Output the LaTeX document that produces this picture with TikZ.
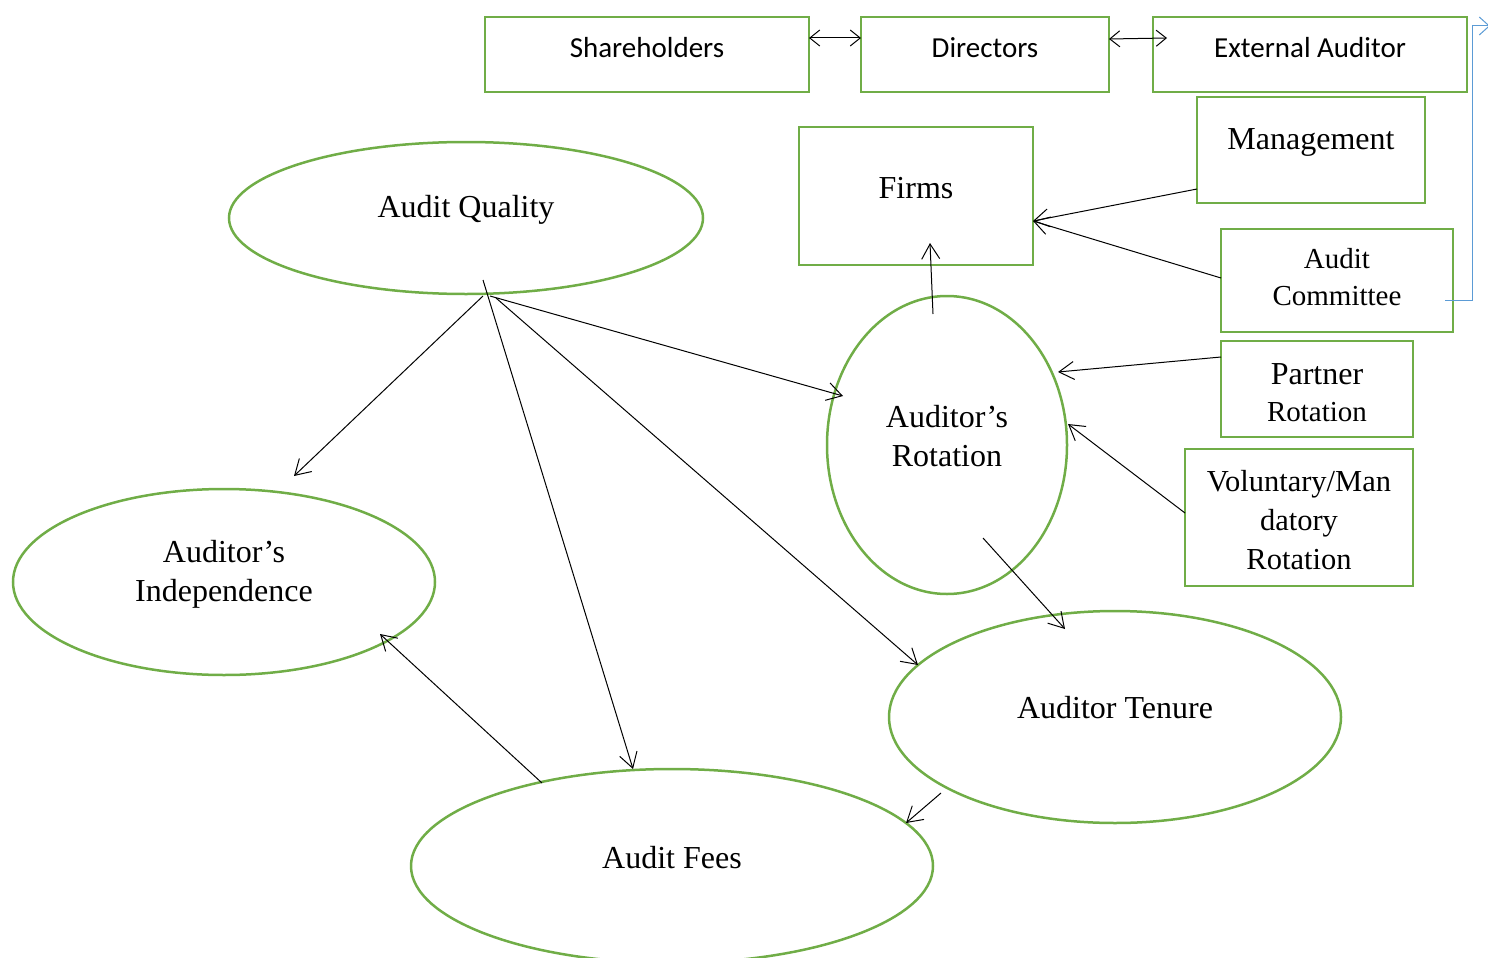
\documentclass[tikz,border=0pt]{standalone}
\usepackage{fontspec}
\setmainfont{Liberation Serif}
\newfontfamily\calib{Carlito}
\usetikzlibrary{arrows.meta,shapes.geometric}
\definecolor{grn}{HTML}{70AD47}
\definecolor{blu}{HTML}{5B9BD5}
\tikzset{
  box/.style={draw=grn,line width=2.5pt,rectangle,inner sep=0pt},
  ell/.style={draw=grn,line width=2.5pt,ellipse,inner sep=0pt},
  stxt/.style={font=\calib\fontsize{29}{34}\selectfont,inner sep=0pt},
  txt/.style={font=\fontsize{32}{39}\selectfont,inner sep=0pt,align=center},
  conn/.style={line width=1pt,-{Straight Barb[length=15pt,width=18pt,line width=1pt]}},
  bconn/.style={line width=1pt,{Straight Barb[length=10pt,width=16pt,line width=1pt]}-{Straight Barb[length=10pt,width=16pt,line width=1pt]}},
}
\begin{document}
\begin{tikzpicture}[x=1pt,y=-1pt]
\useasboundingbox (0,0) rectangle (1488,958);
% top boxes
\node[box,minimum width=324pt,minimum height=75pt] (sh) at (647,54.5) {};
\node[stxt] at (647,48) {Shareholders};
\node[box,minimum width=248pt,minimum height=75pt] (di) at (985,54.5) {};
\node[stxt] at (985,48) {Directors};
\node[box,minimum width=314pt,minimum height=75pt] (ea) at (1310,54.5) {};
\node[stxt] at (1310,48) {External Auditor};
% right boxes
\node[box,minimum width=228pt,minimum height=106pt] (mg) at (1311,150) {};
\node[txt] at (1311,142) {Management};
\node[box,minimum width=234pt,minimum height=138pt] (fi) at (916,196) {};
\node[txt] at (916,188) {Firms};
\node[box,minimum width=232pt,minimum height=103pt] (ac) at (1337,280.5) {};
\node[txt,font=\fontsize{29}{37}\selectfont] at (1337,277) {Audit\\Committee};
\node[box,minimum width=192pt,minimum height=96pt] (pr) at (1317,389) {};
\node[txt] at (1317,374) {Partner};
\node[txt,font=\fontsize{29}{37}\selectfont] at (1317,412) {Rotation};
\node[box,minimum width=228pt,minimum height=137pt] (vr) at (1299,517.5) {};
\node[txt,font=\fontsize{30.5}{39}\selectfont] at (1299,520) {Voluntary/Man\\datory\\Rotation};
% ellipses
\node[ell,minimum width=474pt,minimum height=152pt] (aq) at (466,218) {};
\node[txt] at (466,210) {Audit Quality};
\node[ell,minimum width=422pt,minimum height=186pt] (ai) at (224,582) {};
\node[txt] at (224,574) {Auditor’s\\Independence};
\node[ell,minimum width=240pt,minimum height=298pt] (ar) at (947,445) {};
\node[txt] at (947,436) {Auditor’s\\Rotation};
\node[ell,minimum width=452pt,minimum height=212pt] (at) at (1115,717) {};
\node[txt] at (1115,708) {Auditor Tenure};
\node[ell,minimum width=522pt,minimum height=194pt] (af) at (672,866) {};
\node[txt] at (672,858) {Audit Fees};
% connector end points
\coordinate (sh1) at (809,38); \coordinate (di1) at (861,38);
\coordinate (di2) at (1109,39); \coordinate (ea1) at (1167,38);
\coordinate (mg1) at (1197,189); \coordinate (fi1) at (1033,221);
\coordinate (ac1) at (1221,278);
\coordinate (ar1) at (933,314); \coordinate (fi2) at (930,243);
\coordinate (aq1) at (483,296); \coordinate (ai1) at (294,476);
\coordinate (aq2) at (483,280); \coordinate (af1) at (633,769);
\coordinate (aq3) at (490,296); \coordinate (ar2) at (843,396);
\coordinate (aq4) at (496,298); \coordinate (at1) at (918,665);
\coordinate (pr1) at (1221,357); \coordinate (ar3) at (1058,372);
\coordinate (vr1) at (1185,513); \coordinate (ar4) at (1068,424);
\coordinate (ar5) at (983,538); \coordinate (at2) at (1065,629);
\coordinate (at3) at (941,793); \coordinate (af2) at (906,823);
\coordinate (af3) at (542,783); \coordinate (ai2) at (380,634);
\coordinate (ac2) at (1445,300); \coordinate (ea2) at (1490,26);
% connectors
\draw[bconn] (sh1) -- (di1);
\draw[bconn] (di2) -- (ea1);
\draw[conn] (mg1) -- (fi1);
\draw[conn] (ac1) -- (fi1);
\draw[conn] (ar1) -- (fi2);
\draw[conn] (aq1) -- (ai1);
\draw[conn] (aq2) -- (af1);
\draw[conn] (aq3) -- (ar2);
\draw[conn] (aq4) -- (at1);
\draw[conn] (pr1) -- (ar3);
\draw[conn] (vr1) -- (ar4);
\draw[conn] (ar5) -- (at2);
\draw[conn] (at3) -- (af2);
\draw[conn] (af3) -- (ai2);
\draw[blu,line width=1pt,-{Straight Barb[length=10pt,width=18pt,line width=1pt]}] (ac2) -- (1472,300) -- (1472,26) -- (ea2);
\end{tikzpicture}
\end{document}
